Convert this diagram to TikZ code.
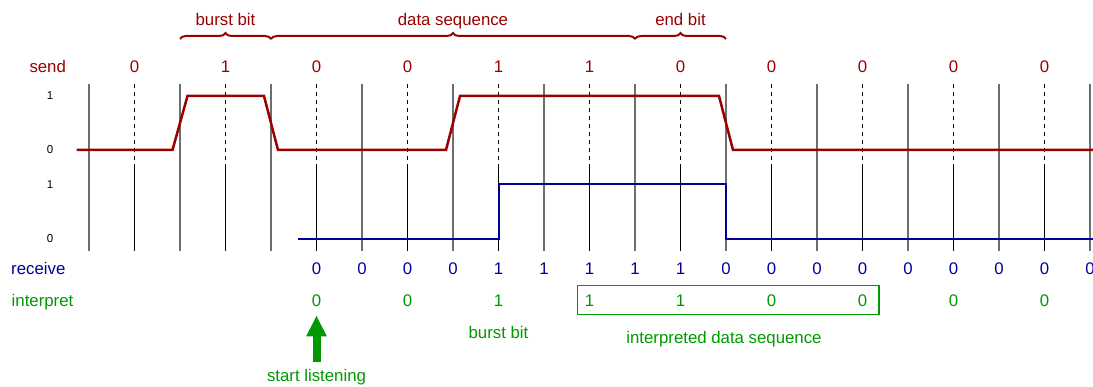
\documentclass[tikz,border=0pt]{standalone}
\usepackage{fontspec}
\setmainfont{Liberation Sans}
\usetikzlibrary{decorations.pathreplacing,arrows.meta}
\definecolor{sred}{RGB}{153,0,0}
\definecolor{rblue}{RGB}{0,0,153}
\definecolor{igreen}{RGB}{0,153,0}
\definecolor{gridgray}{RGB}{110,110,110}
\begin{document}
\begin{tikzpicture}[x=1pt,y=-1pt,
  lbl/.style={anchor=base,font=\fontsize{16.8}{20}\selectfont,inner sep=0pt},
  sendlbl/.style={lbl,text=sred},
  recvlbl/.style={lbl,text=rblue},
  intlbl/.style={lbl,text=igreen},
  axlbl/.style={anchor=center,font=\fontsize{11.5}{14}\selectfont,inner sep=0pt},
  gridline/.style={gridgray,line width=1.5pt},
  tickline/.style={black,line width=1pt},
  dashline/.style={black,line width=1pt,dash pattern=on 4pt off 4pt},
  sendwave/.style={sred,line width=2.5pt,line join=miter},
  recvwave/.style={rblue,line width=2pt},
  bracestyle/.style={sred,line width=2pt,decorate,decoration={brace,amplitude=6pt}},
  boxstyle/.style={igreen,line width=1.5pt},
  bigarrow/.style={igreen,line width=8pt,-{Triangle[width=19pt,length=21pt]}},
]
\useasboundingbox (0,0) rectangle (1093,387);

% grid
\foreach \i in {0,...,11} {
  \pgfmathsetmacro{\gx}{89+91*\i}
  \draw[gridline] (\gx,84) -- (\gx,251);
}
\foreach \i in {0,...,10} {
  \pgfmathsetmacro{\dx}{134.5+91*\i}
  \draw[dashline] (\dx,84) -- (\dx,167);
  \draw[tickline] (\dx,167) -- (\dx,251);
}

% axis labels
\node[axlbl] (ys1) at (50,96) {1};
\node[axlbl] (ys0) at (50,150) {0};
\node[axlbl] (yr1) at (50,185) {1};
\node[axlbl] (yr0) at (50,239) {0};

% waveforms
\draw[sendwave] (76.7,150) -- (172.5,150) -- (187.5,96) -- (264,96) -- (278,150)
  -- (446,150) -- (460,96) -- (719,96) -- (733,150) -- (1093,150);
\draw[recvwave] (297.7,239) -- (498.5,239) -- (498.5,184.5) -- (726,184.5)
  -- (726,239) -- (1093,239);

% braces
\draw[bracestyle] (180,39) -- (271,39);
\draw[bracestyle] (271,39) -- (635,39);
\draw[bracestyle] (635,39) -- (726,39);
\node[sendlbl] (bb) at (225.5,25.1) {burst bit};
\node[sendlbl] (ds) at (453,25.1) {data sequence};
\node[sendlbl] (eb) at (680.5,25.1) {end bit};

% send row
\node[sendlbl,anchor=base west] (send) at (29.3,73) {send};
\foreach \v [count=\k from 0] in {0,1,0,0,1,1,0,0,0,0,0} {
  \pgfmathsetmacro{\sx}{134.5+91*\k}
  \node[sendlbl] (s\k) at (\sx,73) {\v};
}

% receive row
\node[recvlbl,anchor=base west] (recv) at (11,274.3) {receive};
\foreach \v [count=\k from 0] in {0,0,0,0,1,1,1,1,1,0,0,0,0,0,0,0,0,0} {
  \pgfmathsetmacro{\rx}{316.5+45.5*\k}
  \node[recvlbl] (r\k) at (\rx,274.3) {\v};
}

% interpret row
\node[intlbl,anchor=base west] (interp) at (11.5,306.7) {interpret};
\foreach \v [count=\k from 0] in {0,0,1,1,1,0,0,0,0} {
  \pgfmathsetmacro{\ix}{316.5+91*\k}
  \node[intlbl] (i\k) at (\ix,306.7) {\v};
}
\draw[boxstyle] (577.3,285.7) rectangle (879,314.3);

\node[intlbl] (burst) at (498.5,338.5) {burst bit};
\node[intlbl] (ids) at (724,343.5) {interpreted data sequence};
\node[intlbl] (sl) at (316.5,381.8) {start listening};
\draw[bigarrow,shorten <=7pt,shorten >=8.3pt] (sl.north) -- (i0.south);
\end{tikzpicture}
\end{document}
